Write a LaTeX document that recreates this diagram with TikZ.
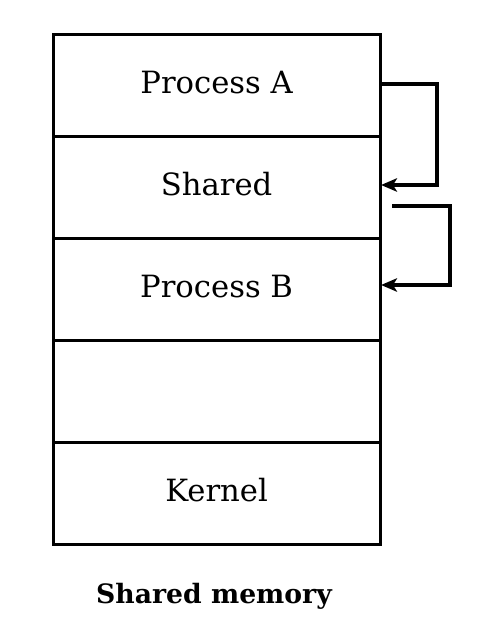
\documentclass[tikz,border=0pt]{standalone}
\usepackage{fontspec}
\setmainfont{DejaVu Serif}
\usetikzlibrary{arrows.meta}
\begin{document}
\begin{tikzpicture}[x=0.75pt,y=-0.75pt,
  row/.style={draw, line width=2.4pt, minimum width=327*0.75pt, minimum height=102*0.75pt, inner sep=0pt, anchor=north west, font=\fontsize{23}{27}\selectfont},
  lbl/.style={font=\fontsize{23}{27}\selectfont, inner sep=0pt},
  link/.style={line width=2.4pt, -{Stealth[length=12pt,width=10pt,inset=3pt]}}]
\useasboundingbox (0,0) rectangle (484,641);
\node[row] (pa) at (51.5,33) {};
\node[row] (sh) at (51.5,135) {};
\node[row] (pb) at (51.5,237) {};
\node[row] (em) at (51.5,339) {};
\node[row] (ke) at (51.5,441) {};
\node[lbl] (tpa) at ([yshift=2.5pt]pa.center) {Process A};
\node[lbl] (tsh) at ([yshift=2.5pt]sh.center) {Shared};
\node[lbl] (tpb) at ([yshift=2.5pt]pb.center) {Process B};
\node[lbl] (tke) at ([yshift=2.5pt]ke.center) {Kernel};
\node[font=\bfseries\fontsize{20}{24}\selectfont] (cap) at (214,596) {Shared memory};
\coordinate (s1) at (380,84);
\coordinate (e1) at (381,185);
\coordinate (s2) at (392,206);
\coordinate (e2) at (381,285);
\draw[link] (s1) -- (437,84) -- (437,185) -- (e1);
\draw[link] (s2) -- (450,206) -- (450,285) -- (e2);
\end{tikzpicture}
\end{document}
